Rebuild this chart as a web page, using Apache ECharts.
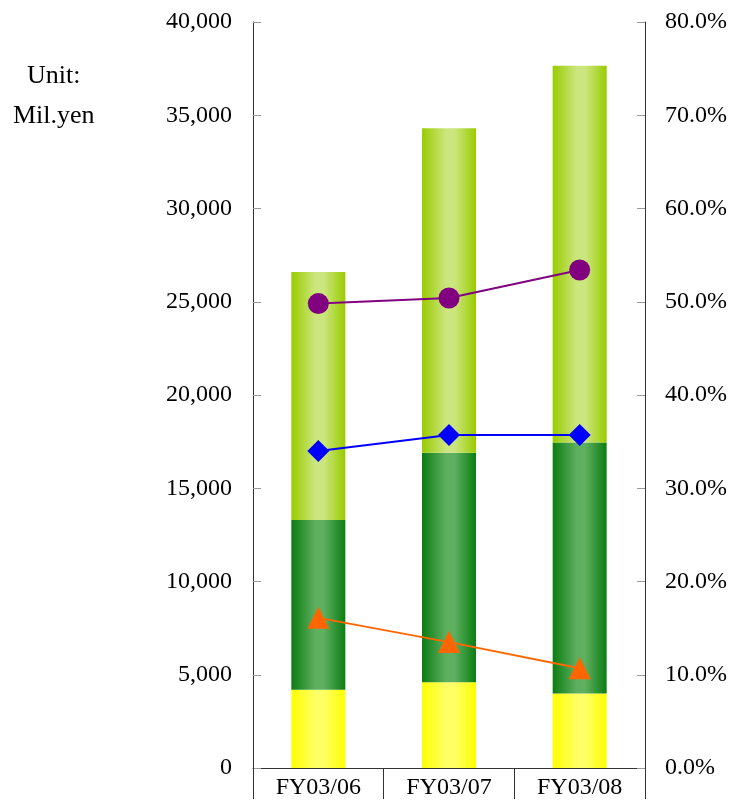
<!DOCTYPE html>
<html>
<head>
<meta charset="utf-8">
<script src="https://cdn.jsdelivr.net/npm/echarts@6/dist/echarts.min.js"></script>
<style>
    html, body {margin: 0; padding: 0; background: #fff;}
    #chart {width: 730px; height: 800px;}
</style>
</head>
<body>
<div id="chart"></div>
<script>
const categories = ['FY03/06', 'FY03/07', 'FY03/08'];
const yellowPart = [4200, 4600, 4000];
const darkGreenPart = [9100, 12300, 13450];
const lightGreenPart = [13300, 17400, 20200];
const purpleRatio = [49.8, 50.4, 53.4];
const blueRatio = [34.0, 35.7, 35.7];
const orangeRatio = [16.1, 13.5, 10.7];

const font = 'Liberation Serif';

const grad = (edge, mid) => new echarts.graphic.LinearGradient(0, 0, 1, 0, [
    {offset: 0, color: edge},
    {offset: 0.45, color: mid},
    {offset: 0.6, color: mid},
    {offset: 1, color: edge}
]);

const myChart = echarts.init(document.getElementById('chart'));
myChart.setOption({
    animation: false,
    textStyle: {fontFamily: font},
    grid: {left: 253, right: 83, top: 22, bottom: 30},
    graphic: [
        {type: 'text', x: 27, y: 76, style: {text: 'Unit:', font: '26px "Liberation Serif"', fill: '#000', verticalAlign: 'middle'}},
        {type: 'text', x: 13, y: 116, style: {text: 'Mil.yen', font: '26px "Liberation Serif"', fill: '#000', verticalAlign: 'middle'}}
    ],
    xAxis: {
        type: 'category',
        data: categories,
        axisLine: {lineStyle: {color: '#333', width: 1}},
        axisTick: {show: true, length: 31, lineStyle: {color: '#333'}},
        axisLabel: {color: '#000', fontSize: 24, fontFamily: font, margin: 8}
    },
    yAxis: [
        {
            type: 'value', min: 0, max: 40000, interval: 5000,
            splitLine: {show: false},
            axisLine: {show: true, lineStyle: {color: '#333'}},
            axisTick: {show: true, inside: true, length: 8, lineStyle: {color: '#999'}},
            axisLabel: {
                color: '#000', fontSize: 24, fontFamily: font, margin: 21,
                formatter: v => v.toLocaleString('en-US')
            }
        },
        {
            type: 'value', min: 0, max: 80, interval: 10,
            splitLine: {show: false},
            axisLine: {show: true, lineStyle: {color: '#333'}},
            axisTick: {show: true, inside: true, length: 8, lineStyle: {color: '#999'}},
            axisLabel: {
                color: '#000', fontSize: 24, fontFamily: font, margin: 20,
                formatter: v => v.toFixed(1) + '%'
            }
        }
    ],
    series: [
        {
            type: 'bar', stack: 'total', data: yellowPart, barWidth: 54,
            itemStyle: {color: grad('#ffff00', '#ffff66')}
        },
        {
            type: 'bar', stack: 'total', data: darkGreenPart, barWidth: 54,
            itemStyle: {color: grad('#0b7d12', '#5faf60')}
        },
        {
            type: 'bar', stack: 'total', data: lightGreenPart, barWidth: 54,
            itemStyle: {color: grad('#99cc00', '#cce67f')}
        },
        {
            type: 'line', yAxisIndex: 1, data: purpleRatio,
            symbol: 'circle', symbolSize: 21,
            lineStyle: {color: '#800080', width: 2},
            itemStyle: {color: '#800080'}
        },
        {
            type: 'line', yAxisIndex: 1, data: blueRatio,
            symbol: 'diamond', symbolSize: 22,
            lineStyle: {color: '#0000ff', width: 2},
            itemStyle: {color: '#0000ff'}
        },
        {
            type: 'line', yAxisIndex: 1, data: orangeRatio,
            symbol: 'triangle', symbolSize: 22,
            lineStyle: {color: '#ff6600', width: 2},
            itemStyle: {color: '#ff6600'}
        }
    ]
});
</script>
</body>
</html>
